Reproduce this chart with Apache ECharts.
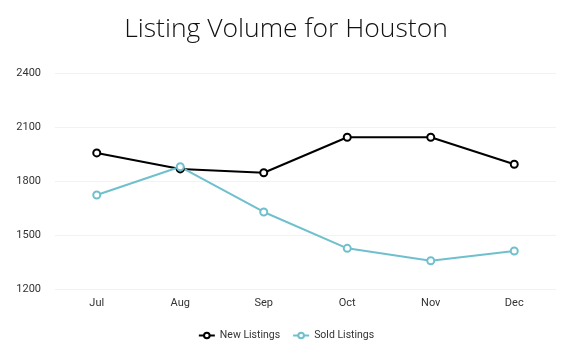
<!DOCTYPE html>
<html><head><meta charset="utf-8">
<script src="https://cdn.jsdelivr.net/npm/echarts@6/dist/echarts.min.js"></script>
<style>html,body{margin:0;padding:0;background:#fff}#c{width:572px;height:351px}</style>
</head><body><div id="c"></div>
<script>
const categories = ['Jul','Aug','Sep','Oct','Nov','Dec'];
const newListings = [1956, 1867, 1846, 2043, 2043, 1893];
const soldListings = [1722, 1879, 1628, 1426, 1357, 1411];
const yTicks = [1200, 1500, 1800, 2100, 2400];

const chart = echarts.init(document.getElementById('c'), null, {renderer:'canvas'});
chart.setOption({
  backgroundColor:'#fff',
  animation:false,
  title:{text:'Listing Volume for Houston', left:'center', top:11,
    textStyle:{fontFamily:'Open Sans', fontWeight:300, fontSize:26.5, color:'#111'}},
  legend:{bottom:5, left:'center', itemWidth:16, itemHeight:7, itemGap:12,
    textStyle:{fontFamily:'Roboto', fontSize:10.5, color:'#333'},
    data:['New Listings','Sold Listings']},
  grid:{left:55, right:16, top:73, bottom:62},
  xAxis:{type:'category', data:categories, boundaryGap:true,
    axisLine:{show:false}, axisTick:{show:false},
    axisLabel:{fontFamily:'Roboto', fontSize:11, color:'#333', margin:9}},
  yAxis:{type:'value', min:yTicks[0], max:yTicks[yTicks.length-1], interval:300,
    axisLine:{show:false}, axisTick:{show:false},
    axisLabel:{fontFamily:'Roboto', fontSize:11, color:'#333', margin:14, formatter:v=>String(v)},
    splitLine:{lineStyle:{color:'#f2f2f2', width:1}}},
  series:[
    {name:'New Listings', type:'line', data:newListings, symbol:'circle', symbolSize:7,
     lineStyle:{color:'#000', width:2}, itemStyle:{color:'#fff', borderColor:'#000', borderWidth:2}},
    {name:'Sold Listings', type:'line', data:soldListings, symbol:'circle', symbolSize:7,
     lineStyle:{color:'#6fc0cc', width:2}, itemStyle:{color:'#fff', borderColor:'#6fc0cc', borderWidth:2}}
  ]
});
</script></body></html>
